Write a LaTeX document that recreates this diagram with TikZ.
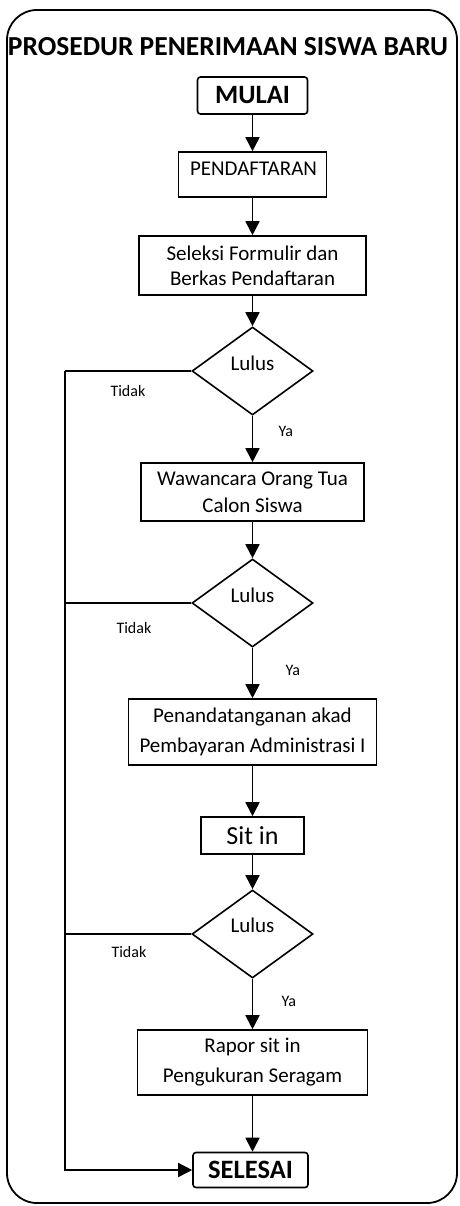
\documentclass[tikz,border=0pt]{standalone}
\usepackage{fontspec}
\setmainfont{Carlito}
\usetikzlibrary{arrows.meta,shapes.geometric}
\begin{document}
\begin{tikzpicture}[x=1pt,y=-1pt,
  box/.style={draw, line width=1.6pt, inner sep=0pt, align=center,
    font=\fontsize{21}{25}\selectfont},
  term/.style={draw, line width=1.6pt, inner sep=0pt, rounded corners=3pt,
    font=\bfseries\fontsize{26.5}{30}\selectfont},
  dec/.style={draw, diamond, line width=1.6pt, inner sep=0pt,
    minimum width=121pt, minimum height=88pt},
  lulus/.style={anchor=base, font=\fontsize{21}{25}\selectfont},
  small/.style={anchor=base west, font=\fontsize{16}{19}\selectfont},
  arr/.style={line width=1.7pt, -{Triangle[width=14pt,length=14pt]}},
  ln/.style={line width=1.5pt}]
\useasboundingbox (0,0) rectangle (459,1206);
\draw[line width=1.8pt, rounded corners=30pt] (7,10) rectangle (457,1203);
\node[anchor=base, font=\bfseries\fontsize{27.5}{32}\selectfont] (title) at (228,56) {PROSEDUR PENERIMAAN SISWA BARU};
\node[term, minimum width=110pt, minimum height=37pt] (mulai) at (252.5,95.5) {MULAI};
\node[box, minimum width=148pt, minimum height=45pt] (pend) at (252.5,174.5) {};
\node[anchor=base, font=\fontsize{21}{25}\selectfont] (pendtxt) at (253.5,176) {PENDAFTARAN};
\node[box, minimum width=227pt, minimum height=59pt] (sel) at (252.5,265.5) {Seleksi Formulir dan\\Berkas Pendaftaran};
\node[dec] (d1) at (252.5,371) {};
\node[lulus] (l1) at (252.5,370) {Lulus};
\node[box, minimum width=223pt, minimum height=58pt, font=\fontsize{21}{27}\selectfont] (waw) at (252.5,492) {Wawancara Orang Tua\\Calon Siswa};
\node[dec] (d2) at (252.5,603) {};
\node[lulus] (l2) at (252.5,602) {Lulus};
\node[box, minimum width=248pt, minimum height=66pt, font=\fontsize{21}{30}\selectfont] (pen) at (252.5,732) {Penandatanganan akad\\Pembayaran Administrasi I};
\node[box, minimum width=103pt, minimum height=37pt, font=\fontsize{26}{30}\selectfont] (sit) at (252.5,835.5) {Sit in};
\node[dec] (d3) at (252.5,934) {};
\node[lulus] (l3) at (252.5,932) {Lulus};
\node[box, minimum width=230pt, minimum height=65pt, font=\fontsize{21}{30}\selectfont] (rap) at (252.5,1062.5) {Rapor sit in\\Pengukuran Seragam};
\node[term, minimum width=115pt, minimum height=35pt] (end) at (250.5,1170) {SELESAI};
% main flow
\draw[arr] (mulai) -- (pend);
\draw[arr] (pend) -- (sel);
\draw[arr] (sel) -- (d1);
\draw[arr] (d1) -- (waw);
\draw[arr] (waw) -- (d2);
\draw[arr] (d2) -- (pen);
\draw[arr] (pen) -- (sit);
\draw[arr] (sit) -- (d3);
\draw[arr] (d3) -- (rap);
\draw[arr] (rap.south) -- (rap.south |- end.north);
% Tidak branches
\coordinate (c1) at (65,371);
\coordinate (c2) at (65,603);
\coordinate (c3) at (65,934);
\draw[ln] (d1.west) -- (c1);
\draw[ln] (d2.west) -- (c2);
\draw[ln] (d3.west) -- (c3);
\draw[arr, line width=1.5pt] (c1) |- (end.west);
% labels
\node[small] (t1) at (107,396) {Tidak};
\node[small] (t2) at (113,633) {Tidak};
\node[small] (t3) at (108,957) {Tidak};
\node[small] (y1) at (275,436) {Ya};
\node[small] (y2) at (282,675) {Ya};
\node[small] (y3) at (278,1006) {Ya};
\end{tikzpicture}
\end{document}
